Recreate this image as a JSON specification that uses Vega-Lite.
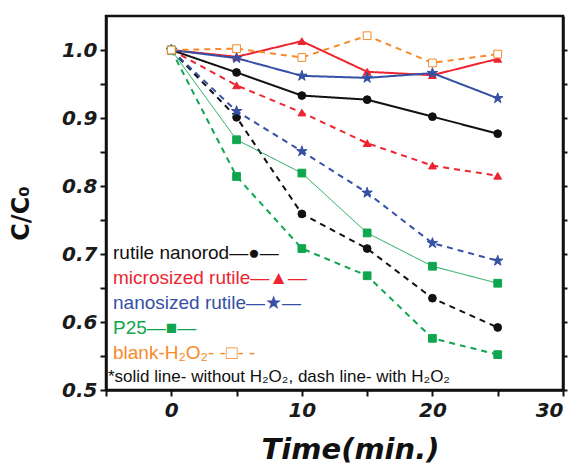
{
  "$schema": "https://vega.github.io/schema/vega-lite/v6.json",
  "width": 457,
  "height": 374,
  "autosize": "none",
  "padding": {"left": 106, "top": 16, "right": 19, "bottom": 75},
  "config": {
    "view": {"stroke": "#111", "strokeWidth": 2.5},
    "axis": {
      "grid": false,
      "domainColor": "#111",
      "domainWidth": 2.5,
      "tickColor": "#111",
      "tickWidth": 2,
      "tickSize": 6,
      "labelFont": "DejaVu Sans",
      "labelFontWeight": "bold",
      "labelFontStyle": "italic",
      "labelFontSize": 20,
      "labelColor": "#1a1a1a"
    }
  },
  "data": {
    "values": [
      {"material": "rutile nanorod", "h2o2": "without", "t": 0, "c": 1.0},
      {"material": "rutile nanorod", "h2o2": "without", "t": 5, "c": 0.967},
      {"material": "rutile nanorod", "h2o2": "without", "t": 10, "c": 0.933},
      {"material": "rutile nanorod", "h2o2": "without", "t": 15, "c": 0.927},
      {"material": "rutile nanorod", "h2o2": "without", "t": 20, "c": 0.902},
      {"material": "rutile nanorod", "h2o2": "without", "t": 25, "c": 0.877},
      {"material": "rutile nanorod", "h2o2": "with", "t": 0, "c": 1.0},
      {"material": "rutile nanorod", "h2o2": "with", "t": 5, "c": 0.901},
      {"material": "rutile nanorod", "h2o2": "with", "t": 10, "c": 0.759},
      {"material": "rutile nanorod", "h2o2": "with", "t": 15, "c": 0.708},
      {"material": "rutile nanorod", "h2o2": "with", "t": 20, "c": 0.635},
      {"material": "rutile nanorod", "h2o2": "with", "t": 25, "c": 0.592},
      {"material": "microsized rutile", "h2o2": "without", "t": 0, "c": 1.0},
      {"material": "microsized rutile", "h2o2": "without", "t": 5, "c": 0.99},
      {"material": "microsized rutile", "h2o2": "without", "t": 10, "c": 1.013},
      {"material": "microsized rutile", "h2o2": "without", "t": 15, "c": 0.968},
      {"material": "microsized rutile", "h2o2": "without", "t": 20, "c": 0.963},
      {"material": "microsized rutile", "h2o2": "without", "t": 25, "c": 0.987},
      {"material": "microsized rutile", "h2o2": "with", "t": 0, "c": 1.0},
      {"material": "microsized rutile", "h2o2": "with", "t": 5, "c": 0.948},
      {"material": "microsized rutile", "h2o2": "with", "t": 10, "c": 0.908},
      {"material": "microsized rutile", "h2o2": "with", "t": 15, "c": 0.863},
      {"material": "microsized rutile", "h2o2": "with", "t": 20, "c": 0.83},
      {"material": "microsized rutile", "h2o2": "with", "t": 25, "c": 0.815},
      {"material": "nanosized rutile", "h2o2": "without", "t": 0, "c": 1.0},
      {"material": "nanosized rutile", "h2o2": "without", "t": 5, "c": 0.988},
      {"material": "nanosized rutile", "h2o2": "without", "t": 10, "c": 0.962},
      {"material": "nanosized rutile", "h2o2": "without", "t": 15, "c": 0.959},
      {"material": "nanosized rutile", "h2o2": "without", "t": 20, "c": 0.966},
      {"material": "nanosized rutile", "h2o2": "without", "t": 25, "c": 0.929},
      {"material": "nanosized rutile", "h2o2": "with", "t": 0, "c": 1.0},
      {"material": "nanosized rutile", "h2o2": "with", "t": 5, "c": 0.91},
      {"material": "nanosized rutile", "h2o2": "with", "t": 10, "c": 0.851},
      {"material": "nanosized rutile", "h2o2": "with", "t": 15, "c": 0.79},
      {"material": "nanosized rutile", "h2o2": "with", "t": 20, "c": 0.716},
      {"material": "nanosized rutile", "h2o2": "with", "t": 25, "c": 0.69},
      {"material": "P25", "h2o2": "without", "t": 0, "c": 1.0},
      {"material": "P25", "h2o2": "without", "t": 5, "c": 0.868},
      {"material": "P25", "h2o2": "without", "t": 10, "c": 0.819},
      {"material": "P25", "h2o2": "without", "t": 15, "c": 0.731},
      {"material": "P25", "h2o2": "without", "t": 20, "c": 0.682},
      {"material": "P25", "h2o2": "without", "t": 25, "c": 0.657},
      {"material": "P25", "h2o2": "with", "t": 0, "c": 1.0},
      {"material": "P25", "h2o2": "with", "t": 5, "c": 0.814},
      {"material": "P25", "h2o2": "with", "t": 10, "c": 0.708},
      {"material": "P25", "h2o2": "with", "t": 15, "c": 0.668},
      {"material": "P25", "h2o2": "with", "t": 20, "c": 0.576},
      {"material": "P25", "h2o2": "with", "t": 25, "c": 0.552},
      {"material": "blank-H₂O₂", "h2o2": "with", "t": 0, "c": 1.0},
      {"material": "blank-H₂O₂", "h2o2": "with", "t": 5, "c": 1.002},
      {"material": "blank-H₂O₂", "h2o2": "with", "t": 10, "c": 0.989},
      {"material": "blank-H₂O₂", "h2o2": "with", "t": 15, "c": 1.021},
      {"material": "blank-H₂O₂", "h2o2": "with", "t": 20, "c": 0.981},
      {"material": "blank-H₂O₂", "h2o2": "with", "t": 25, "c": 0.994}
    ]
  },
  "encoding": {
    "x": {
      "field": "t",
      "type": "quantitative",
      "scale": {"domain": [-5, 30], "nice": false, "zero": false},
      "axis": {
        "values": [-5, 0, 5, 10, 15, 20, 25, 30],
        "labelExpr": "datum.value % 10 === 0 ? datum.label : ''",
        "labelPadding": 4,
        "title": "Time(min.)",
        "titleFont": "DejaVu Sans",
        "titleFontWeight": "bold",
        "titleFontStyle": "italic",
        "titleFontSize": 29,
        "titleColor": "#111",
        "titleX": 244,
        "titleY": 68,
        "titleAlign": "center",
        "titleBaseline": "alphabetic"
      }
    }
  },
  "layer": [
    {
      "mark": {"type": "line", "strokeCap": "butt"},
      "encoding": {
        "y": {
          "field": "c",
          "type": "quantitative",
          "scale": {"domain": [0.5, 1.05], "nice": false, "zero": false},
          "axis": {
            "values": [0.5, 0.55, 0.6, 0.65, 0.7, 0.75, 0.8, 0.85, 0.9, 0.95, 1.0],
            "labelExpr": "abs(datum.value * 10 - round(datum.value * 10)) < 0.001 ? format(datum.value, '.1f') : ''",
            "labelPadding": 3,
            "title": "C/C₀",
            "titleFont": "DejaVu Sans",
            "titleFontWeight": "bold",
            "titleFontSize": 24,
            "titleColor": "#111",
            "titleAngle": -90,
            "titleX": -85,
            "titleY": 197,
            "titleAlign": "center",
            "titleBaseline": "middle"
          }
        },
        "color": {
          "field": "material",
          "type": "nominal",
          "scale": {
            "domain": ["rutile nanorod", "microsized rutile", "nanosized rutile", "P25", "blank-H₂O₂"],
            "range": ["#111111", "#ec2531", "#3550a4", "#10a650", "#f68b2a"]
          },
          "legend": {
            "orient": "none",
            "legendX": 2,
            "legendY": 227,
            "padding": 0,
            "title": "*solid line- without H₂O₂, dash line- with H₂O₂",
            "titleOrient": "bottom",
            "titleFont": "Liberation Sans",
            "titleFontSize": 17,
            "titleFontWeight": "normal",
            "titleColor": "#111",
            "titleLimit": 500,
            "titleAnchor": "start",
            "titlePadding": 6,
            "labelFont": "Liberation Sans",
            "labelFontSize": 19,
            "labelLimit": 400,
            "labelOffset": -14,
            "symbolSize": 1,
            "symbolStrokeWidth": 0,
            "symbolOpacity": 0,
            "rowPadding": 5,
            "labelExpr": "datum.value === 'rutile nanorod' ? 'rutile nanorod—●—' : datum.value === 'microsized rutile' ? 'microsized rutile—▲—' : datum.value === 'nanosized rutile' ? 'nanosized rutile—★—' : datum.value === 'P25' ? 'P25—■—' : 'blank-H₂O₂- -□- -'",
            "encode": {"labels": {"update": {"fill": {"scale": "color", "field": "value"}}}}
          }
        },
        "strokeDash": {
          "field": "h2o2",
          "type": "nominal",
          "scale": {"domain": ["without", "with"], "range": [[1, 0], [6, 5]]},
          "legend": null
        },
        "strokeWidth": {
          "condition": {"test": "datum.material === 'P25' && datum.h2o2 === 'without'", "value": 1},
          "value": 2
        }
      }
    },
    {
      "mark": {"type": "point", "filled": true, "opacity": 1, "strokeWidth": 1},
      "encoding": {
        "y": {
          "field": "c",
          "type": "quantitative",
          "scale": {"domain": [0.5, 1.05], "nice": false, "zero": false},
          "axis": {
            "orient": "right",
            "values": [0.5, 0.55, 0.6, 0.65, 0.7, 0.75, 0.8, 0.85, 0.9, 0.95, 1.0],
            "labels": false,
            "tickSize": 4,
            "title": null
          }
        },
        "shape": {
          "field": "material",
          "type": "nominal",
          "scale": {
            "domain": ["rutile nanorod", "microsized rutile", "nanosized rutile", "P25", "blank-H₂O₂"],
            "range": ["circle", "triangle-up", "M0,-1L0.225,-0.309L0.951,-0.309L0.363,0.118L0.588,0.809L0,0.382L-0.588,0.809L-0.363,0.118L-0.951,-0.309L-0.225,-0.309Z", "square", "square"]
          },
          "legend": null
        },
        "fill": {
          "condition": {"test": "datum.material === 'blank-H₂O₂'", "value": "white"},
          "field": "material",
          "type": "nominal",
          "scale": {
            "domain": ["rutile nanorod", "microsized rutile", "nanosized rutile", "P25", "blank-H₂O₂"],
            "range": ["#111111", "#ec2531", "#3550a4", "#10a650", "#f68b2a"]
          },
          "legend": null
        },
        "stroke": {
          "field": "material",
          "type": "nominal",
          "scale": {
            "domain": ["rutile nanorod", "microsized rutile", "nanosized rutile", "P25", "blank-H₂O₂"],
            "range": ["#111111", "#ec2531", "#3550a4", "#10a650", "#f68b2a"]
          },
          "legend": null
        },
        "size": {
          "condition": {"test": "datum.material === 'nanosized rutile'", "value": 120},
          "value": 60
        }
      }
    }
  ],
  "resolve": {"axis": {"y": "independent"}}
}
